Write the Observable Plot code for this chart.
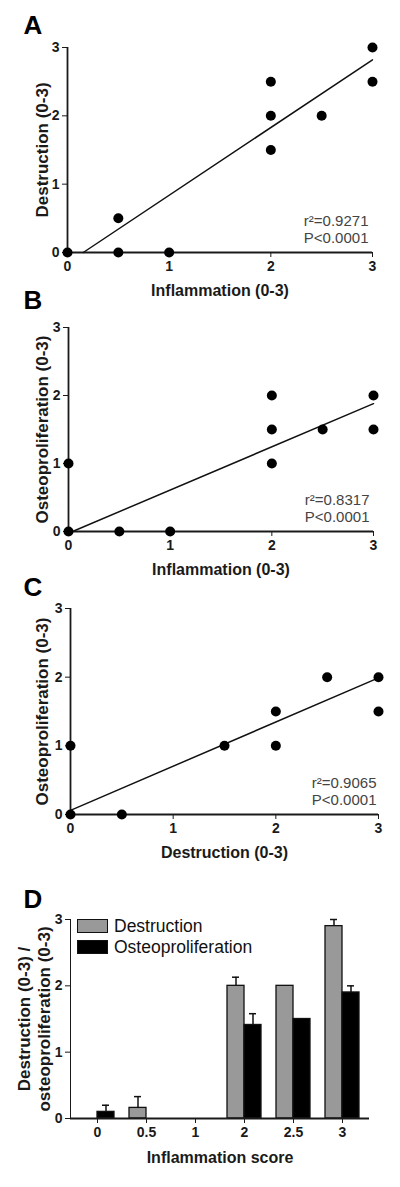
<!DOCTYPE html>
<html>
<head>
<meta charset="utf-8">
<script src="https://cdn.jsdelivr.net/npm/d3@7"></script>
<script src="https://cdn.jsdelivr.net/npm/@observablehq/plot@0.6"></script>
<style>
  body { margin: 0; background: #fff; font-family: "Liberation Sans", Arial, sans-serif; }
  #wrap { position: relative; width: 400px; height: 1187px; overflow: hidden; }
  .panel { position: absolute; left: 0; }
  .panel svg { overflow: visible; }
  .lg-row { position: absolute; left: 77px; height: 20px; display: flex; align-items: center; font-size: 17.5px; color: #111; }
  .lg-box { width: 29px; height: 12px; border: 1.2px solid #111; margin-right: 6px; box-sizing: content-box; }
</style>
</head>
<body>
<div id="wrap"></div>
<script>
// ---------- Panel A: Inflammation vs Destruction ----------
const aInflammation = [0, 0.5, 0.5, 1, 2, 2, 2, 2.5, 3, 3];
const aDestruction  = [0, 0.5, 0,   0, 2.5, 2, 1.5, 2, 3, 2.5];
const aFitX = [0.155, 3];
const aFitY = [0, 2.82];
const aStats = ["r²=0.9271", "P<0.0001"];

// ---------- Panel B: Inflammation vs Osteoproliferation ----------
const bInflammation = [0, 0, 0.5, 1, 2, 2, 2, 2.5, 3, 3];
const bOsteo        = [1, 0, 0,   0, 2, 1.5, 1, 1.5, 2, 1.5];
const bFitX = [0.04, 3];
const bFitY = [0, 1.88];
const bStats = ["r²=0.8317", "P<0.0001"];

// ---------- Panel C: Destruction vs Osteoproliferation ----------
const cDestruction = [0, 0, 0.5, 1.5, 2, 2, 2.5, 3, 3];
const cOsteo       = [1, 0, 0,   1,   1.5, 1, 2, 2, 1.5];
const cFitX = [0, 3];
const cFitY = [0.06, 1.99];
const cStats = ["r²=0.9065", "P<0.0001"];

const scoreTicks = [0, 1, 2, 3];

// ---------- Panel D: grouped bars ----------
const dCategories = ["0", "0.5", "1", "2", "2.5", "3"];
const dSeries = ["Destruction", "Osteoproliferation"];
const dColors = ["#999999", "#000000"];
const dDestruction    = [0,   0.16, 0, 2.0,  2.0, 2.9];
const dDestructionTop = [0,   0.33, 0, 2.13, 2.0, 3.0];
const dOsteo          = [0.1, 0,    0, 1.41, 1.5, 1.9];
const dOsteoTop       = [0.2, 0,    0, 1.58, 1.5, 2.0];

const FONT = "Liberation Sans, Arial, sans-serif";
const wrap = document.getElementById("wrap");

function place(node, top) {
  const d = document.createElement("div");
  d.className = "panel";
  d.style.top = top + "px";
  d.appendChild(node);
  wrap.appendChild(d);
}

function scatter(cfg) {
  const pts = cfg.xs.map((x, i) => ({x, y: cfg.ys[i]}));
  const fit = cfg.fitX.map((x, i) => ({x, y: cfg.fitY[i]}));
  const p = Plot.plot({
    width: 400, height: cfg.height,
    marginTop: cfg.mt, marginBottom: cfg.mb, marginLeft: cfg.ml, marginRight: cfg.mr,
    style: {fontFamily: FONT, fontSize: "14px", fontWeight: "bold", color: "#1a1a1a", background: "transparent", overflow: "visible"},
    x: {domain: [0, 3], ticks: scoreTicks, tickSize: 5, tickPadding: 4, label: null, tickFormat: d => String(d)},
    y: {domain: [0, 3], ticks: scoreTicks, tickSize: 5, tickPadding: 3, label: null, tickFormat: d => String(d)},
    marks: [
      Plot.ruleY([0], {strokeWidth: 1.8, stroke: "#1a1a1a"}),
      Plot.ruleX([0], {strokeWidth: 1.8, stroke: "#1a1a1a"}),
      Plot.line(fit, {x: "x", y: "y", strokeWidth: 1.5, stroke: "#111"}),
      Plot.dot(pts, {x: "x", y: "y", r: 5, fill: "#000", stroke: null}),
      Plot.text([cfg.stats.join("\n")], {
        frameAnchor: "bottom-right", textAnchor: "end", lineAnchor: "bottom",
        dx: cfg.statDx, dy: -10, lineHeight: 1.1,
        fontSize: 15, fontWeight: "normal", fill: "#444"
      }),
      Plot.text([cfg.letter], {
        frameAnchor: "top-left", textAnchor: "start", lineAnchor: "bottom",
        dx: 23 - cfg.ml, dy: cfg.letterBase - cfg.mt,
        fontSize: 26, fontWeight: "bold", fill: "#000"
      }),
      Plot.text([cfg.xLabel], {
        frameAnchor: "bottom", lineAnchor: "middle", dy: 38,
        fontSize: 16, fontWeight: "bold", fill: "#1a1a1a"
      }),
      Plot.text([cfg.yLabel], {
        frameAnchor: "left", rotate: -90, lineAnchor: "middle", textAnchor: "middle",
        dx: 42 - cfg.ml, fontSize: 17, fontWeight: "bold", fill: "#1a1a1a"
      })
    ]
  });
  return p;
}

place(scatter({
  letter: "A", xs: aInflammation, ys: aDestruction, fitX: aFitX, fitY: aFitY, stats: aStats,
  xLabel: "Inflammation (0-3)", yLabel: "Destruction (0-3)",
  height: 300, mt: 47, mb: 48, ml: 67, mr: 28, letterBase: 33, statDx: -4
}), 0);

place(scatter({
  letter: "B", xs: bInflammation, ys: bOsteo, fitX: bFitX, fitY: bFitY, stats: bStats,
  xLabel: "Inflammation (0-3)", yLabel: "Osteoproliferation (0-3)",
  height: 300, mt: 47, mb: 49, ml: 68, mr: 27, letterBase: 28, statDx: -4
}), 280);

place(scatter({
  letter: "C", xs: cDestruction, ys: cOsteo, fitX: cFitX, fitY: cFitY, stats: cStats,
  xLabel: "Destruction (0-3)", yLabel: "Osteoproliferation (0-3)",
  height: 300, mt: 47, mb: 47, ml: 70, mr: 22, letterBase: 34, statDx: -2
}), 561);

// Panel D
const dBars = [];
const dErr = [];
dCategories.forEach((c, i) => {
  dBars.push({cat: c, series: dSeries[0], value: dDestruction[i]});
  dBars.push({cat: c, series: dSeries[1], value: dOsteo[i]});
  if (dDestructionTop[i] > dDestruction[i]) dErr.push({cat: c, series: dSeries[0], lo: dDestruction[i], hi: dDestructionTop[i]});
  if (dOsteoTop[i] > dOsteo[i]) dErr.push({cat: c, series: dSeries[1], lo: dOsteo[i], hi: dOsteoTop[i]});
});
const dBand = 34; // inner band split in two halves
const half = dBand / 2;
const isD = d => d.series === dSeries[0];

const pD = Plot.plot({
  width: 400, height: 317,
  marginTop: 49, marginBottom: 69, marginLeft: 70, marginRight: 31,
  style: {fontFamily: FONT, fontSize: "14px", fontWeight: "bold", color: "#1a1a1a", background: "transparent", overflow: "visible"},
  x: {type: "band", domain: dCategories, paddingInner: 0.31, paddingOuter: 0.16, tickSize: 5, tickPadding: 4, label: null},
  y: {domain: [0, 3], ticks: scoreTicks, tickSize: 5, tickPadding: 3, label: null, line: true, tickFormat: d => String(d)},
  color: {domain: dSeries, range: dColors},
  marks: [
    Plot.barY(dBars.filter(isD), {x: "cat", y: "value", fill: "series", stroke: "#111", strokeWidth: 1.3, insetRight: half}),
    Plot.barY(dBars.filter(d => !isD(d)), {x: "cat", y: "value", fill: "series", stroke: "#111", strokeWidth: 1.3, insetLeft: half}),
    Plot.ruleX(dErr.filter(isD), {x: "cat", y1: "lo", y2: "hi", dx: -half / 2, strokeWidth: 1.5, stroke: "#111"}),
    Plot.ruleX(dErr.filter(d => !isD(d)), {x: "cat", y1: "lo", y2: "hi", dx: half / 2, strokeWidth: 1.5, stroke: "#111"}),
    Plot.tickY(dErr.filter(isD), {x: "cat", y: "hi", dx: -half / 2, insetLeft: 13.5, insetRight: 13.5, strokeWidth: 1.5, stroke: "#111"}),
    Plot.tickY(dErr.filter(d => !isD(d)), {x: "cat", y: "hi", dx: half / 2, insetLeft: 13.5, insetRight: 13.5, strokeWidth: 1.5, stroke: "#111"}),
    Plot.ruleY([0], {strokeWidth: 1.8, stroke: "#1a1a1a"}),
    Plot.text(["D"], {
      frameAnchor: "top-left", textAnchor: "start", lineAnchor: "bottom",
      dx: 23 - 70, dy: 37 - 49, fontSize: 26, fontWeight: "bold", fill: "#000"
    }),
    Plot.text(["Inflammation score"], {
      frameAnchor: "bottom", lineAnchor: "middle", dy: 39,
      fontSize: 16, fontWeight: "bold", fill: "#1a1a1a"
    }),
    Plot.text(["Destruction (0-3) /\nosteoproliferation (0-3)"], {
      frameAnchor: "left", rotate: -90, lineAnchor: "middle", textAnchor: "middle",
      dx: 33 - 70, lineHeight: 1.15, fontSize: 17, fontWeight: "bold", fill: "#1a1a1a"
    })
  ]
});
place(pD, 870);

// Legend inside panel D (top-left of frame)
const legendTops = [916, 937];
dSeries.forEach((s, i) => {
  const row = document.createElement("div");
  row.className = "lg-row";
  row.style.top = legendTops[i] + "px";
  const box = document.createElement("div");
  box.className = "lg-box";
  box.style.background = dColors[i];
  const label = document.createElement("span");
  label.textContent = s;
  row.appendChild(box);
  row.appendChild(label);
  wrap.appendChild(row);
});
</script>
</body>
</html>
